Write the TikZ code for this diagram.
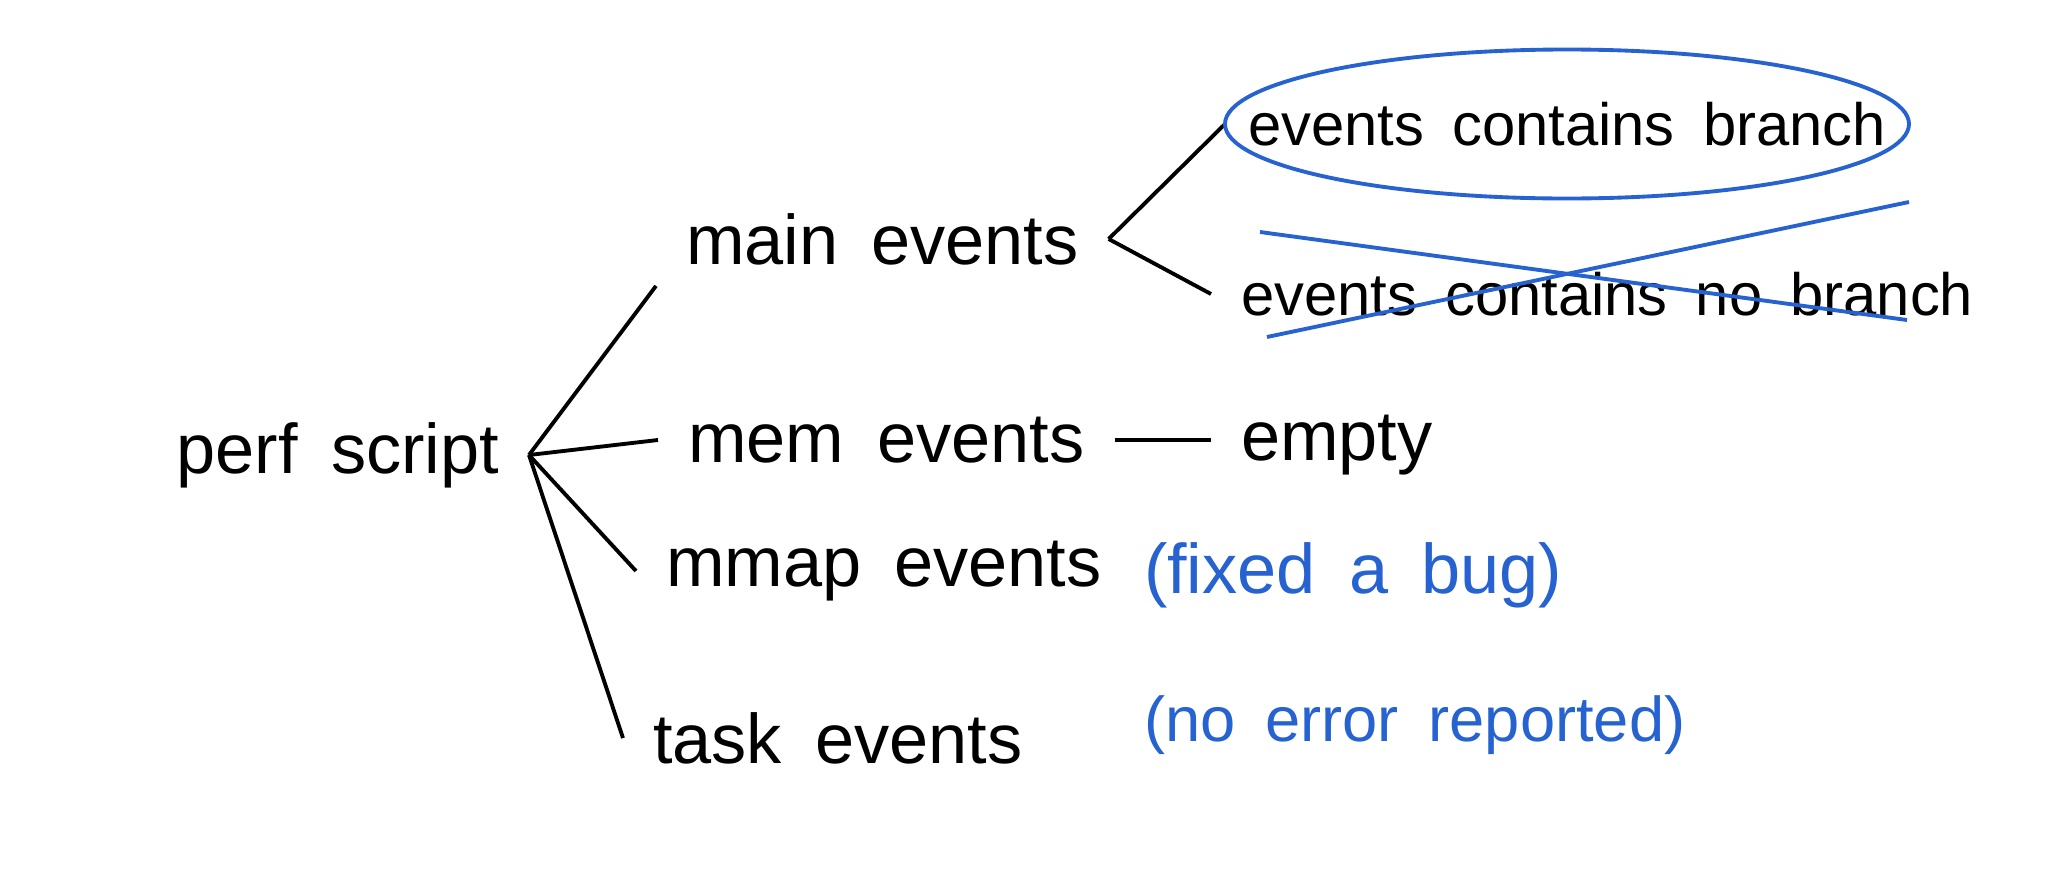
\documentclass[tikz,border=0pt]{standalone}
\usepackage{fontspec}
\setmainfont{Liberation Sans}[WordSpace=1.7]
\usetikzlibrary{shapes.geometric}
\definecolor{pen}{RGB}{38,98,208}
\begin{document}
\begin{tikzpicture}
  [every node/.style={inner sep=0pt,outer xsep=0.3cm,minimum height=0.9cm,font=\fontsize{20}{24}\selectfont},
   line width=1.1pt]
  \tikzstyle{note} = [text=pen,anchor=west]
  \tikzstyle{small} = [font=\fontsize{17}{21}\selectfont]
  \useasboundingbox (0,0) rectangle (20.48,8.85);
  \node[anchor=east] (ps) at (5.29,4.30) {perf script};
  \node[anchor=west] (main) at (6.56,6.46) {main events};
  \node[anchor=west] (mem) at (6.58,4.45) {mem events};
  \node[anchor=west] (mmap) at (6.36,3.14) {mmap events};
  \node[anchor=west] (task) at (6.23,1.47) {task events};
  \node[small,outer xsep=0pt,minimum width=6.84cm] (branch) at (15.67,7.61) {events contains branch};
  \node[small,anchor=west] (nobr) at (12.11,5.91) {events contains no branch};
  \node[anchor=west] (empty) at (12.11,4.40) {empty};
  \node[note] (fix) at (11.14,3.10) {(fixed a bug)};
  \node[note,font=\fontsize{18}{22}\selectfont] (noerr) at (11.14,1.60) {(no error reported)};

  \foreach \from/\to in {ps.east/main.south west,ps.east/mem.west,ps.east/mmap.west,ps.east/task.west,main.east/branch.west,main.east/nobr.west}
    \draw (\from) -- (\to);
  \draw (mem.east) -- (mem.east -| empty.west);

  % circled / crossed out
  \draw[pen] (branch) ellipse [x radius=3.42cm,y radius=0.745cm];
  \draw[pen] (12.60,6.53) -- (19.07,5.65);
  \draw[pen] (12.67,5.48) -- (19.09,6.83);

\end{tikzpicture}
\end{document}
